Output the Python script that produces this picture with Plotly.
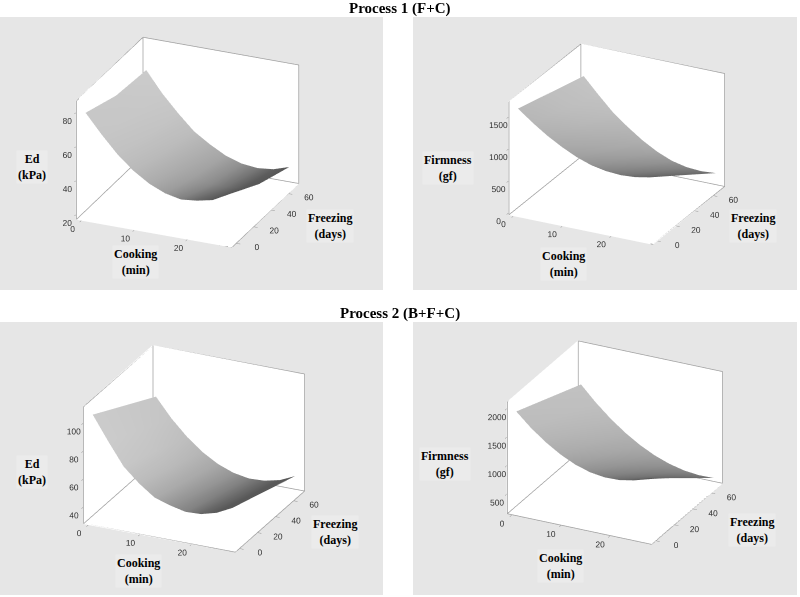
import numpy as np
import plotly.graph_objects as go

# grid
cooking = [0, 3, 6, 9, 12, 15, 18, 21, 24, 27]
freezing = [0, 35, 70]

# Process 1 (F+C)
ed_p1_f0 = [78, 67, 57, 49, 43, 39, 37, 38, 40, 45]
ed_p1_f35 = [71, 60, 50, 42, 36, 32, 29, 29, 30, 34]
ed_p1_f70 = [69, 57, 47, 38, 32, 27, 24, 23, 24, 27]

firm_p1_f0 = [1590, 1415, 1260, 1130, 1020, 940, 896, 880, 896, 940]
firm_p1_f35 = [1430, 1225, 1030, 875, 740, 636, 565, 531, 530, 562]
firm_p1_f70 = [1273, 1030, 800, 620, 460, 330, 234, 182, 165, 182]

# Process 2 (B+F+C)
ed_p2_f0 = [104, 87, 71, 61, 53, 49.5, 47, 47.5, 50.5, 56]
ed_p2_f35 = [90.5, 75.5, 62, 52, 45, 41, 39, 39.5, 42, 47.5]
ed_p2_f70 = [77, 63.5, 52.5, 43.7, 37.2, 33, 31, 31.5, 34, 39]

firm_p2_f0 = [1900, 1665, 1470, 1310, 1188, 1108, 1072, 1080, 1130, 1224]
firm_p2_f35 = [1648, 1400, 1190, 1012, 870, 766, 701, 675, 686, 735]
firm_p2_f70 = [1396, 1135, 908, 714, 553, 425, 331, 270, 242, 247]

cook_range = [-1, 28.5]
freeze_range = [-5, 72]
cook_ticks = [0, 10, 20]
freeze_ticks = [0, 20, 40, 60]

# px/py: grey panel in pixels; size/center: box size and placement in the panel;
# labels: pixel centres of the axis names
panels = [
    dict(z=[ed_p1_f0, ed_p1_f35, ed_p1_f70], zr=[17, 87], zt=[20, 40, 60, 80],
         px=(0, 383), py=(17, 290), zlab="Ed<br>(kPa)", size=1.0, center=(0.032, -0.085),
         labels=[(32, 167), (135, 262), (330, 226)]),
    dict(z=[firm_p1_f0, firm_p1_f35, firm_p1_f70], zr=[-30, 1740], zt=[0, 500, 1000, 1500],
         px=(413, 797), py=(17, 290), zlab="Firmness<br>(gf)", size=0.95, center=(-0.096, -0.094),
         labels=[(448, 168), (563, 264), (753, 226)]),
    dict(z=[ed_p2_f0, ed_p2_f35, ed_p2_f70], zr=[28, 112], zt=[40, 60, 80, 100],
         px=(0, 383), py=(322, 595), zlab="Ed<br>(kPa)", size=0.985, center=(-0.02, -0.081),
         labels=[(32, 472), (138, 571), (335, 532)]),
    dict(z=[firm_p2_f0, firm_p2_f35, firm_p2_f70], zr=[150, 2120], zt=[500, 1000, 1500, 2000],
         px=(413, 797), py=(322, 595), zlab="Firmness<br>(gf)", size=0.95, center=(-0.08, -0.145),
         labels=[(445, 464), (560, 566), (752, 530)]),
]

W, H = 800, 597
PANEL_BG = "#e6e6e6"
ser = "Liberation Serif"

# box proportions and camera (looking from front, slightly right, ~25 deg up)
ASP = np.array([0.945, 0.935, 0.725])
SCALE = 1.32
EYE = np.array([0.389, -0.864, 0.384]) * 2.0
LIGHT = np.array([1.0, -0.1, 0.3])
LIGHT = LIGHT / np.linalg.norm(LIGHT)


def shading(z, zr):
    # simple lambert shade of the surface, in the box's own proportions
    xs = (np.array(cooking) - cook_range[0]) / (cook_range[1] - cook_range[0]) * ASP[0]
    ys = (np.array(freezing) - freeze_range[0]) / (freeze_range[1] - freeze_range[0]) * ASP[1]
    zs = (np.array(z, dtype=float) - zr[0]) / (zr[1] - zr[0]) * ASP[2]
    gy, gx = np.gradient(zs, ys, xs)
    n = np.stack([-gx, -gy, np.ones_like(zs)])
    n = n / np.linalg.norm(n, axis=0)
    return np.clip(np.tensordot(LIGHT, n, axes=1), 0, 1)


fig = go.Figure()
annotations = []

for i, p in enumerate(panels):
    sid = "scene" if i == 0 else "scene%d" % (i + 1)
    fig.add_trace(go.Surface(
        x=cooking, y=freezing, z=p["z"], scene=sid,
        surfacecolor=shading(p["z"], p["zr"]), cmin=0, cmax=1,
        colorscale=[[0, "#585858"], [0.5, "#969696"], [1, "#d4d4d4"]], showscale=False,
        lighting=dict(ambient=1, diffuse=0, specular=0, roughness=1, fresnel=0),
        hoverinfo="skip",
    ))
    # back pane outlines, nudged just inside the panes so they are not hidden by them
    x0, x1 = cook_range
    y0, y1 = freeze_range
    z0, z1 = p["zr"]
    x0 += (x1 - x0) * 0.004
    y1 -= (y1 - y0) * 0.004
    z0 += (z1 - z0) * 0.004
    bx = [x1, x0, x0, x0, x1, x1, x1, None, x0, x0, x1, None, x0, x0]
    by = [y0, y0, y0, y1, y1, y1, y0, None, y1, y1, y1, None, y1, y0]
    bz = [z0, z0, z1, z1, z1, z0, z0, None, z1, z0, z0, None, z0, z0]
    fig.add_trace(go.Scatter3d(x=bx, y=by, z=bz, mode="lines", scene=sid,
                               line=dict(color="#a0a0a0", width=1.5),
                               hoverinfo="skip", showlegend=False))

    ax_common = dict(showgrid=False, zeroline=False, showline=False,
                     showbackground=True, backgroundcolor="white",
                     showspikes=False, ticks="outside", ticklen=4,
                     tickcolor="#888", title=dict(text=""), tickangle=0,
                     tickfont=dict(family="Liberation Sans", size=10, color="#333"))
    s = SCALE * p["size"]
    fig.update_layout({sid: dict(
        domain=dict(x=[p["px"][0] / W, p["px"][1] / W],
                    y=[1 - p["py"][1] / H, 1 - p["py"][0] / H]),
        bgcolor=PANEL_BG,
        xaxis=dict(range=cook_range, tickvals=cook_ticks, **ax_common),
        yaxis=dict(range=freeze_range, tickvals=freeze_ticks, **ax_common),
        zaxis=dict(range=p["zr"], tickvals=p["zt"], **ax_common),
        aspectmode="manual",
        aspectratio=dict(x=ASP[0] * s, y=ASP[1] * s, z=ASP[2] * s),
        camera=dict(eye=dict(x=EYE[0], y=EYE[1], z=EYE[2]),
                    center=dict(x=p["center"][0], y=0, z=p["center"][1]),
                    projection=dict(type="orthographic")),
    )})

    # axis labels as in the original (bold serif, off the box)
    names = [p["zlab"], "Cooking<br>(min)", "Freezing<br>(days)"]
    for txt, (lx, ly) in zip(names, p["labels"]):
        annotations.append(dict(text="<b>" + txt + "</b>", x=lx / W, y=1 - ly / H,
                                xref="paper", yref="paper", showarrow=False,
                                xanchor="center", yanchor="middle",
                                font=dict(family=ser, size=12, color="black"),
                                bgcolor="#ebebeb", borderpad=1))

annotations.append(dict(text="<b>Process 1 (F+C)</b>", x=0.5, y=1 - 8 / H, xref="paper", yref="paper",
                        xanchor="center", yanchor="middle",
                        showarrow=False, font=dict(family=ser, size=15, color="black")))
annotations.append(dict(text="<b>Process 2 (B+F+C)</b>", x=0.5, y=1 - 313 / H, xref="paper", yref="paper",
                        xanchor="center", yanchor="middle",
                        showarrow=False, font=dict(family=ser, size=15, color="black")))

fig.update_layout(width=W, height=H, margin=dict(l=0, r=0, t=0, b=0),
                  paper_bgcolor="white", showlegend=False, annotations=annotations)

fig.write_html("out.html", config={"displayModeBar": False},
               post_script="document.body.style.margin='0';")
